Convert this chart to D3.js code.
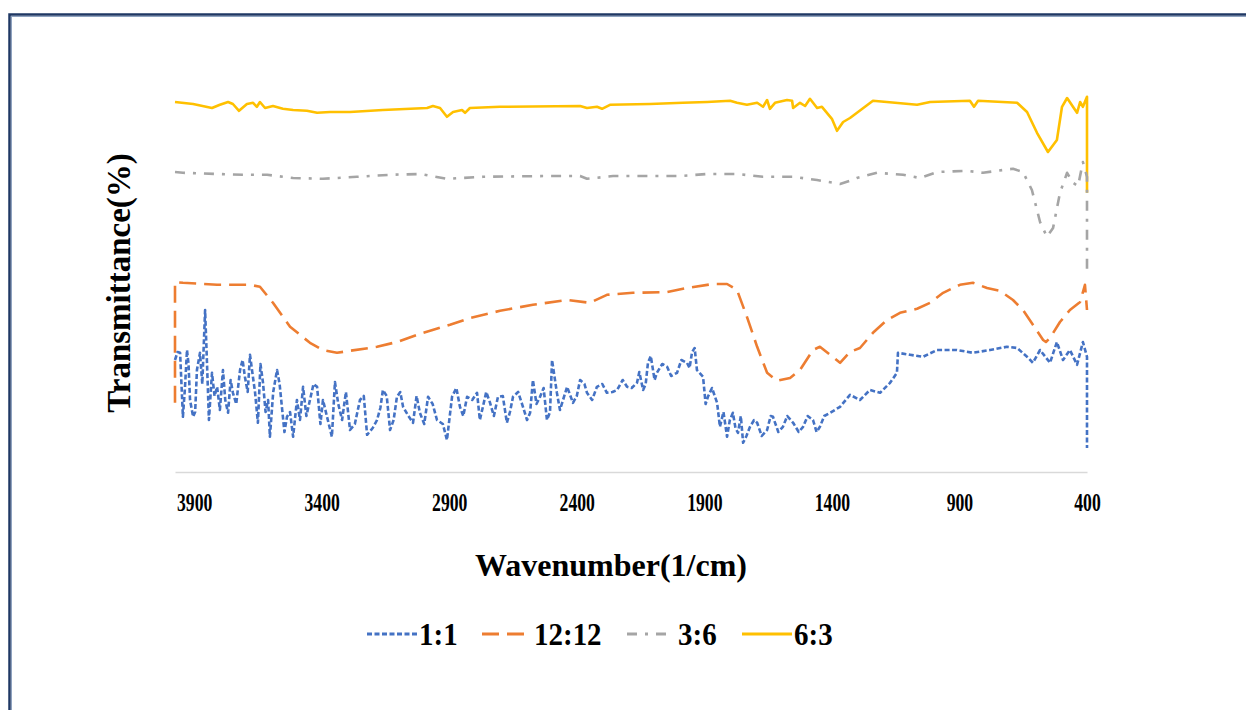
<!DOCTYPE html>
<html lang="en">
<head>
  <meta charset="UTF-8">
  <title>FTIR Transmittance</title>
  <script src="https://d3js.org/d3.v7.min.js"></script>
  <style>
    body { margin: 0; padding: 0; background: #fff; }
    svg { display: block; }
    text { font-family: "Liberation Serif", "Times New Roman", serif; font-weight: bold; fill: #000; }
  </style>
</head>
<body>
  <svg width="1246" height="710"></svg>
  <script>
    // wavenumber (1/cm), transmittance (%) pairs
    const series11 = [
      [3975,28],[3965,30],[3955,29.8],[3944,13.8],[3936,21],[3928,30.5],[3922,27],[3916,18],
      [3904,13.8],[3896,15],[3889,25.5],[3877,29.8],[3868,22],[3857,40.5],[3850,28],[3842,13],
      [3830,24.8],[3820,19],[3810,21.3],[3799,15.5],[3787,25.5],[3778,18],[3767,14.8],[3757,23],
      [3748,19.8],[3735,17],[3720,25.5],[3710,28],[3701,23.8],[3690,20],[3681,29.3],[3670,24],
      [3661,19.8],[3650,12.3],[3640,27],[3630,22.3],[3620,15],[3610,18],[3603,8.8],[3590,20],
      [3575,25.5],[3565,22],[3556,16.3],[3546,10],[3536,13.8],[3524,15],[3512,8.8],[3497,18],
      [3485,13],[3473,21.3],[3460,14],[3446,18],[3432,22],[3418,21.3],[3405,12],[3395,18],
      [3360,8.8],[3348,22.5],[3335,17],[3320,13],[3305,20],[3289,10.5],[3270,12],[3250,18],
      [3235,19],[3222,9.3],[3200,11],[3183,13],[3170,16],[3160,20.5],[3145,19],[3132,10.5],
      [3118,13],[3105,18.8],[3092,20],[3081,16.3],[3060,14],[3042,12.3],[3028,19],[3015,14.8],
      [2998,12],[2983,18.8],[2965,17],[2948,13],[2925,12],[2909,8],[2889,18.8],[2872,21],
      [2858,16.3],[2845,14],[2830,18.8],[2810,18],[2791,19.8],[2780,13],[2768,16.3],[2755,20],
      [2740,17.3],[2725,14],[2709,18.8],[2690,19],[2674,12.3],[2662,15],[2650,18.8],[2630,20],
      [2611,16.3],[2595,13],[2583,14.8],[2572,23],[2558,17],[2544,18.8],[2530,21],[2517,13],
      [2505,15],[2497,28],[2478,19.8],[2466,15.5],[2438,21.3],[2415,17.3],[2400,19],[2387,23],
      [2370,22],[2360,19.8],[2340,18],[2321,21.3],[2300,22],[2282,19.8],[2260,20],[2242,20.5],
      [2220,23],[2203,21.3],[2185,21],[2164,22.3],[2155,25],[2140,20.5],[2130,22],[2121,27.3],
      [2110,29],[2095,23],[2086,24.8],[2065,27],[2046,26.3],[2030,24],[2007,24.8],[1990,28],
      [1968,27.3],[1958,26],[1948,30],[1938,31],[1929,25.5],[1905,23.8],[1895,17],[1886,18.8],
      [1870,21],[1850,17.3],[1839,11.3],[1825,15],[1811,8.8],[1800,13],[1788,14.8],[1778,11],
      [1768,9.8],[1757,14],[1748,7.3],[1735,9],[1721,11.3],[1705,13],[1693,12.3],[1675,9],
      [1654,10.5],[1640,14],[1631,13.8],[1610,10],[1592,11.3],[1575,14],[1552,12.3],[1530,10],
      [1513,11.3],[1495,14],[1474,13],[1460,10],[1447,11.3],[1430,14],[1407,14.8],[1368,16.3],
      [1329,19.3],[1290,18],[1251,20.5],[1211,19.8],[1172,22.3],[1145,24.8],[1141,29.8],[1094,29.3],
      [1043,28.8],[988,30.5],[910,30.5],[847,29.8],[780,30.5],[714,31.3],[674,31],[635,28.8],
      [612,27.3],[584,30.5],[545,27.3],[518,32.5],[494,28],[467,30.5],[439,26.8],[416,32.5],
      [400,28.8],[400,6]
    ];

    const series1212 = [
      [3975,17.3],[3975,47.5],[3944,47.3],[3810,46.8],[3681,46.8],[3642,46.3],[3591,42.3],[3524,36.3],
      [3446,32.3],[3395,30.5],[3340,29.8],[3289,30.3],[3183,31.3],[3105,32.5],[3003,34.8],[2897,36.8],
      [2819,38.5],[2701,40.3],[2572,41.8],[2438,43],[2348,42.3],[2282,44.3],[2180,44.8],[2046,45],
      [1968,46],[1866,47],[1811,47],[1772,45.5],[1733,38.8],[1693,31.3],[1654,24.8],[1615,22.8],
      [1564,23.5],[1525,25.5],[1474,30.5],[1447,31.3],[1407,29.3],[1368,27.3],[1329,30],[1290,31],
      [1239,34.8],[1184,38],[1133,39.8],[1066,40.8],[1015,42.3],[964,44.8],[898,46.8],[847,47.3],
      [792,46],[741,45.3],[690,43],[651,40.5],[612,36.8],[572,33],[561,32.5],[545,33.5],[506,37.5],
      [467,40.5],[427,42.5],[408,46.8],[400,40.5]
    ];

    const series36 = [
      [3975,75],[3944,74.8],[3810,74.5],[3709,74.3],[3614,74.3],[3512,73.5],[3395,73.3],[3262,73.8],
      [3132,74.3],[3015,74.5],[2909,73.3],[2768,73.8],[2517,74],[2387,74],[2360,73.3],[2258,74],
      [1995,74],[1890,74.5],[1772,74.5],[1670,73.8],[1552,73.8],[1458,73],[1368,72],[1329,72.8],
      [1302,73.5],[1223,74.8],[1121,74.3],[1055,73.5],[988,75],[870,75.3],[808,74.8],[753,75.3],
      [690,75.8],[651,75],[616,70.5],[584,62.5],[557,58.8],[533,61],[506,69.8],[478,74.8],
      [455,72.3],[435,71.5],[416,77.5],[400,73.8],[400,50.5]
    ];

    const series63 = [
      [3975,92.5],[3904,92],[3830,91],[3799,91.8],[3767,92.5],[3748,92],[3724,90.3],[3693,92],
      [3669,92.3],[3654,91.3],[3642,92.5],[3622,91],[3591,91.5],[3552,90.8],[3512,90.5],[3458,90.3],
      [3418,89.8],[3367,90],[3289,90],[3160,90.5],[2987,91],[2964,91.5],[2936,91],[2909,88.8],
      [2885,90],[2850,90.5],[2838,89.8],[2819,91],[2701,91.3],[2387,91.5],[2360,91],[2321,91.3],
      [2301,90.8],[2270,91.8],[2113,92],[1984,92.3],[1889,92.5],[1799,92.8],[1772,92.3],[1733,91.8],
      [1693,92.3],[1670,91.3],[1654,93],[1643,90.8],[1623,92.3],[1576,93],[1556,92.8],[1552,91],
      [1525,92.3],[1505,91.5],[1486,93.3],[1458,91],[1439,91.3],[1400,88.3],[1380,85.3],[1356,87.5],
      [1329,88.5],[1239,92.8],[1066,91.8],[1015,92.5],[859,92.8],[843,91.3],[827,92.8],[674,92.3],
      [635,90],[596,84.8],[553,80],[518,83],[498,91.3],[478,93.5],[455,91.3],[439,89.8],[427,92.5],
      [416,91.3],[400,93.8],[400,69.8]
    ];

    const xTicks = [3900, 3400, 2900, 2400, 1900, 1400, 900, 400];

    const legendItems = [
      { name: "1:1", data: series11, color: "#4472C4", dash: "5,2.5" },
      { name: "12:12", data: series1212, color: "#ED7D31", dash: "17,8" },
      { name: "3:6", data: series36, color: "#A5A5A5", dash: "10,8,3,8" },
      { name: "6:3", data: series63, color: "#FFC000", dash: null }
    ];

    const svg = d3.select("svg");

    // page frame (top and left edges visible)
    svg.append("rect")
      .attr("x", 9.5).attr("y", 14.5)
      .attr("width", 1400).attr("height", 900)
      .attr("fill", "none")
      .attr("stroke", "#1F3864")
      .attr("stroke-width", 2.5);
    svg.append("rect")
      .attr("x", 11.5).attr("y", 16.5)
      .attr("width", 1400).attr("height", 900)
      .attr("fill", "none")
      .attr("stroke", "#8FA3C0")
      .attr("stroke-width", 1);

    const x = d3.scaleLinear().domain([3975, 400]).range([175, 1087]);
    const y = d3.scaleLinear().domain([0, 100]).range([472, 72]);

    // x axis
    const xAxis = svg.append("g")
      .attr("transform", "translate(0,472)")
      .call(d3.axisBottom(x).tickValues(xTicks).tickSize(0).tickPadding(21).tickFormat(d3.format("d")));
    xAxis.select(".domain").attr("stroke", "#D9D9D9").attr("stroke-width", 1.5);
    xAxis.selectAll(".tick text")
      .attr("font-size", 26)
      .attr("transform", "scale(0.68,1)")
      .style("font-family", "'Liberation Serif', 'Times New Roman', serif")
      .style("font-weight", "bold")
      .attr("fill", "#000");

    const line = d3.line()
      .x(d => x(d[0]))
      .y(d => y(d[1]));

    const drawOrder = [legendItems[3], legendItems[2], legendItems[1], legendItems[0]];
    svg.append("g")
      .selectAll("path")
      .data(drawOrder)
      .join("path")
      .attr("d", d => line(d.data))
      .attr("fill", "none")
      .attr("stroke", d => d.color)
      .attr("stroke-width", 2.6)
      .attr("stroke-dasharray", d => d.dash)
      .attr("stroke-linejoin", "round");

    // axis titles
    svg.append("text")
      .attr("x", 611).attr("y", 576)
      .attr("text-anchor", "middle")
      .attr("font-size", 32)
      .text("Wavenumber(1/cm)");

    svg.append("text")
      .attr("transform", "translate(130,283) rotate(-90)")
      .attr("text-anchor", "middle")
      .attr("font-size", 33)
      .text("Transmittance(%)");

    // legend
    const legendX = [367, 482, 627, 742];
    const legend = svg.append("g")
      .selectAll("g")
      .data(legendItems)
      .join("g")
      .attr("transform", (d, i) => `translate(${legendX[i]},634)`);
    legend.append("line")
      .attr("x1", 0).attr("x2", d => d.name === "3:6" ? 42 : 50)
      .attr("y1", 0).attr("y2", 0)
      .attr("stroke", d => d.color)
      .attr("stroke-width", 3)
      .attr("stroke-dasharray", d => d.dash);
    legend.append("text")
      .attr("transform", d => `translate(${d.name === "3:6" ? 51 : 52},11) scale(1,1.12)`)
      .attr("font-size", 29)
      .text(d => d.name);
  </script>
</body>
</html>
